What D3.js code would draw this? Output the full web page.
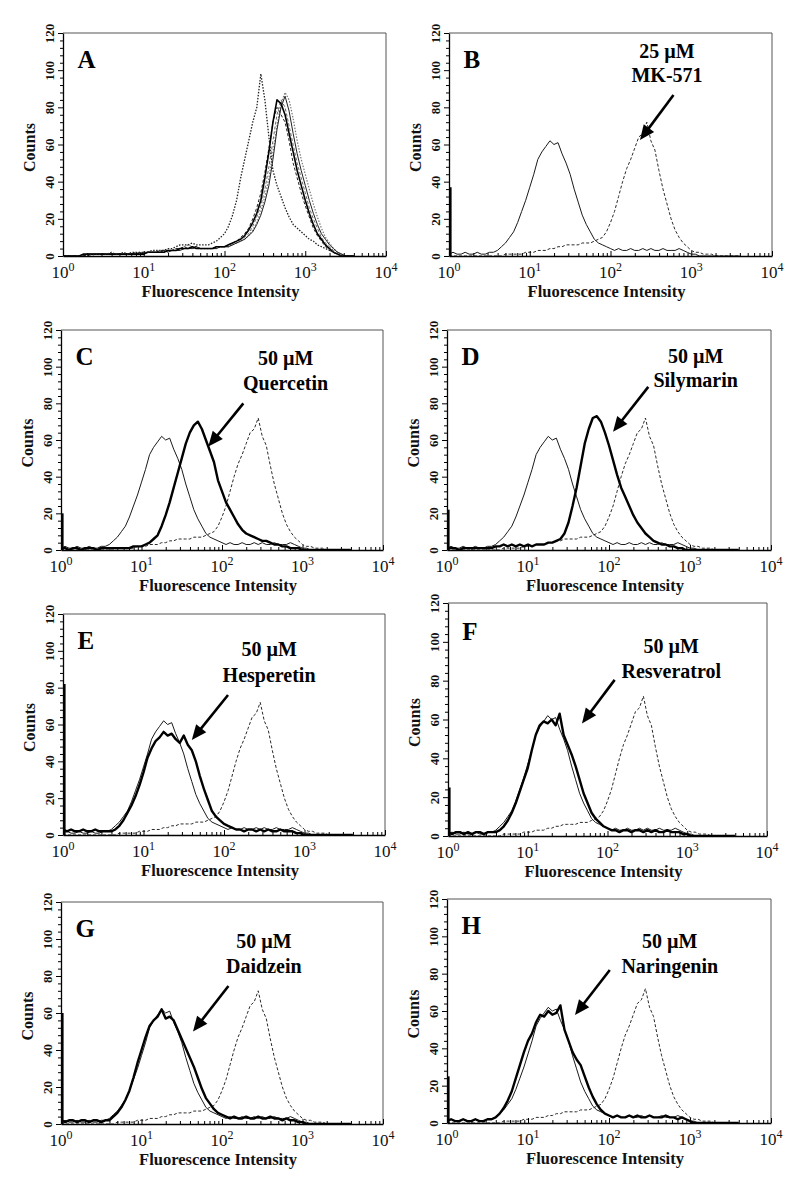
<!DOCTYPE html>
<html><head><meta charset="utf-8">
<script src="https://cdn.jsdelivr.net/npm/d3@7"></script>
<style>body{margin:0;background:#fff} svg{display:block}</style>
</head><body><svg id="chart" width="800" height="1183"></svg>
<script>
// ---------- DATA ----------
// histogram channel positions (log10 of fluorescence intensity)
const binLog = [0,0.05,0.1,0.15,0.2,0.25,0.3,0.35,0.4,0.45,
  0.5,0.55,0.6,0.65,0.7,0.75,0.8,0.85,0.9,0.95,
  1,1.05,1.1,1.15,1.2,1.25,1.3,1.35,1.4,1.45,
  1.5,1.55,1.6,1.65,1.7,1.75,1.8,1.85,1.9,1.95,
  2,2.05,2.1,2.15,2.2,2.25,2.3,2.35,2.4,2.45,
  2.5,2.55,2.6,2.65,2.7,2.75,2.8,2.85,2.9,2.95,
  3,3.05,3.1,3.15,3.2,3.25,3.3,3.35,3.4,3.45,
  3.5,3.55,3.6];

// Panel A: several overlapping histograms
const aSolid1 = [0,0,0,0,0,1,1,1,1,1, 1,1,1,1,1,1,1,1,1,1, 1,2,2,2,2,2,3,3,3,4, 4,4,5,4,4,4,4,4,5,5,
  5,6,7,8,9,11,14,18,23,30, 42,56,72,84,82,76,66,56,46,38, 30,23,17,12,9,6,4,2,1,0, 0,0,0];
const aSolid2 = [0,0,0,0,0,0,1,1,1,1, 1,1,1,1,1,1,1,1,1,2, 1,2,2,2,2,3,2,3,3,3, 4,4,4,5,4,4,4,4,4,5,
  5,5,6,7,8,9,11,13,17,22, 29,38,52,68,80,86,78,66,55,46, 38,30,23,17,12,9,6,4,2,1, 0,0,0];
const aDashed = [0,0,0,0,0,0,0,1,1,1, 1,1,1,1,1,1,1,1,2,1, 2,2,2,2,3,3,3,3,4,4, 5,4,5,5,4,4,4,4,5,5,
  5,6,7,8,10,12,15,20,26,34, 45,58,72,80,76,72,62,50,42,34, 27,21,15,11,8,5,3,2,1,0, 0,0,0];
const aGrayDotted = [0,0,0,0,0,0,1,1,1,1, 1,1,1,1,1,1,1,1,1,1, 2,2,2,2,2,3,3,3,4,4, 5,6,5,5,4,4,4,4,4,5,
  5,5,6,7,8,9,11,14,18,24, 32,42,56,70,82,88,84,74,62,52, 44,36,28,21,15,10,7,4,2,1, 0,0,0];
const aDarkDotted = [0,0,0,0,0,0,1,1,1,1, 1,1,2,1,1,2,1,2,2,2, 2,2,3,3,3,3,4,4,5,6, 6,6,7,6,6,6,6,7,8,10,
  12,16,22,30,42,52,62,72,80,98, 84,64,46,38,32,26,21,17,15,13, 11,9,8,6,5,4,3,2,1,0, 0,0,0];
const aGrayDashed = [0,0,0,0,0,0,0,0,1,1, 1,1,1,1,1,1,1,1,1,1, 1,2,2,2,2,2,3,3,3,3, 4,4,4,4,4,4,4,4,5,5,
  5,5,6,7,8,10,12,16,21,27, 36,48,62,76,84,80,70,60,50,42, 34,26,20,15,10,7,5,3,2,1, 0,0,0];

// Control (thin solid) and 25 µM MK-571 (dashed), panels B–H
const controlCounts = [1,2,1,1,2,1,1,2,1,1, 2,2,3,5,7,10,13,18,24,30, 37,44,52,56,59,62,60,61,55,50,
  44,36,29,22,17,13,9,7,6,5, 4,3,4,3,3,4,3,3,4,3, 4,3,3,4,3,3,3,4,3,2, 1,1,0,0,0,0,0,0,0,0, 0,0,0];
const mk571Counts = [0,0,0,0,0,0,0,0,0,0, 0,0,0,0,1,1,1,1,1,2, 2,2,3,3,3,4,4,5,5,6,
  6,6,6,7,7,7,8,9,10,13, 18,24,32,40,47,52,58,64,66,72, 62,57,46,36,28,20,14,10,7,5, 3,2,2,1,1,1,0,0,0,0, 0,0,0];

// Treatments (thick solid), 50 µM
const quercetinCounts = [1,1,0,1,1,0,1,1,1,0, 1,1,1,1,1,1,1,1,2,2, 2,3,4,6,8,13,19,26,34,42,
  50,58,64,68,70,66,60,54,48,38, 32,26,22,18,14,11,9,8,7,6, 5,5,4,3,3,2,2,1,1,1, 0,0,0,0,0,0,0,0,0,0, 0,0,0];
const silymarinCounts = [1,1,1,0,1,1,1,1,1,1, 1,1,2,2,3,2,3,2,3,2, 3,2,3,3,3,4,4,5,6,9,
  15,24,34,46,58,66,72,73,70,64, 57,49,41,34,29,24,19,15,12,9, 7,5,4,3,3,2,2,1,1,0, 0,0,0,0,0,0,0,0,0,0, 0,0,0];
const hesperetinCounts = [3,2,3,2,2,3,2,2,3,2, 2,2,2,3,5,8,12,16,21,27, 34,42,47,51,53,56,54,55,52,50,
  54,49,46,40,32,25,19,13,10,8, 6,5,4,3,3,2,3,3,2,3, 2,3,2,2,3,2,2,2,1,1, 0,0,0,0,0,0,0,0,0,0, 0,0,0];
const resveratrolCounts = [2,1,2,2,1,2,1,2,2,1, 2,2,2,3,5,8,12,17,23,29, 35,44,52,57,59,58,60,57,63,52,
  47,42,36,29,22,17,12,9,7,5, 4,3,3,2,3,3,2,3,3,2, 3,2,3,2,2,3,2,2,2,1, 1,0,0,0,0,0,0,0,0,0, 0,0,0];
const daidzeinCounts = [2,1,2,2,1,2,2,1,2,2, 1,2,2,4,6,9,13,18,25,33, 40,47,53,56,58,62,57,58,56,51,
  46,41,36,31,25,19,14,11,8,6, 5,4,3,4,3,3,4,3,3,4, 3,3,4,3,3,2,3,2,2,1, 1,0,0,0,0,0,0,0,0,0, 0,0,0];
const naringeninCounts = [1,2,1,1,2,1,1,2,1,1, 2,2,3,5,8,12,17,24,31,38, 44,48,54,58,57,60,58,59,63,50,
  44,38,34,31,25,19,14,10,7,5, 4,3,4,3,3,4,3,4,3,3, 4,3,3,3,4,3,3,2,3,2, 1,0,0,0,0,0,0,0,0,0, 0,0,0];

// counts piled in the first channel (x = 10^0), panels A–H
const firstChannelCounts = [0,37,20,22,82,25,60,25];

// labels
const panelLetters = ["A","B","C","D","E","F","G","H"];
const doseLabels = [null,"25 µM","50 µM","50 µM","50 µM","50 µM","50 µM","50 µM"];
const compoundLabels = [null,"MK-571","Quercetin","Silymarin","Hesperetin","Resveratrol","Daidzein","Naringenin"];
const countTicks = [0,20,40,60,80,100,120];
const decadeTicks = [1,10,100,1000,10000];
const decadeExponents = ["0","1","2","3","4"];
const xTitle = "Fluorescence Intensity";
const yTitle = "Counts";

// ---------- LAYOUT / STYLE ----------
const SERIF = '"Liberation Serif","Times New Roman",Times,serif';
const boxes = [
  {l:63,r:386,t:33,b:256},{l:449,r:772,t:33,b:256},
  {l:61,r:383,t:330,b:550},{l:447,r:771,t:330,b:550},
  {l:63,r:385,t:614,b:835},{l:448,r:767,t:603,b:836},
  {l:61,r:383,t:902,b:1124},{l:447,r:771,t:899,b:1123}
];
// annotation placement in data coordinates [log10 intensity, counts]
const notes = [
  null,
  {tx:2.70,b1:106.4,b2:93.8,tail:[2.78,86.6],tip:[2.365,62.4]},
  {tx:2.79,b1:100.9,b2:87.3,tail:[2.265,80],tip:[1.83,56.4]},
  {tx:3.07,b1:101.8,b2:88.7,tail:[2.485,89],tip:[2.05,64.5]},
  {tx:2.56,b1:97.3,b2:83.2,tail:[2.05,76],tip:[1.6,51.6]},
  {tx:2.80,b1:94.2,b2:81.3,tail:[2.09,80.4],tip:[1.68,58]},
  {tx:2.52,b1:95,b2:81.5,tail:[2.08,74.6],tip:[1.64,50]},
  {tx:2.75,b1:93.6,b2:80.5,tail:[2.01,82],tip:[1.58,57.8]}
];
const sThin = {color:"#1a1a1a",width:1.0,dash:null};
const sDash = {color:"#2a2a2a",width:1.0,dash:"3,2"};
const sThick = {color:"#000",width:2.4,dash:null};
const treatments = [null,null,quercetinCounts,silymarinCounts,hesperetinCounts,resveratrolCounts,daidzeinCounts,naringeninCounts];

function curvesFor(k){
  if(k===0) return [
    {data:aGrayDotted,color:"#777",width:1.2,dash:"1.5,1.5"},
    {data:aGrayDashed,color:"#666",width:1.0,dash:"3,2"},
    {data:aDashed,color:"#222",width:1.0,dash:"3,2"},
    {data:aSolid2,color:"#222",width:1.0,dash:null},
    {data:aSolid1,color:"#000",width:1.6,dash:null},
    {data:aDarkDotted,color:"#222",width:1.3,dash:"1.5,1.5"}
  ];
  const c = [Object.assign({data:mk571Counts},sDash), Object.assign({data:controlCounts},sThin)];
  if(treatments[k]) c.push(Object.assign({data:treatments[k]},sThick));
  return c;
}

// ---------- DRAW ----------
const svg = d3.select("#chart");
svg.append("rect").attr("width",800).attr("height",1183).attr("fill","#fff");
const defs = svg.append("defs");

boxes.forEach((L,k)=>{
  const x = d3.scaleLog().domain([1,1e4]).range([L.l,L.r]);
  const y = d3.scaleLinear().domain([0,120]).range([L.b,L.t]);
  const g = svg.append("g");
  defs.append("clipPath").attr("id","clip"+k).append("rect")
    .attr("x",L.l).attr("y",L.t-2).attr("width",L.r-L.l).attr("height",L.b-L.t+2);

  // frame (top/right)
  g.append("path").attr("d",`M${L.l},${L.t}H${L.r}V${L.b}`).attr("fill","none").attr("stroke","#555").attr("stroke-width",1);

  const plot = g.append("g").attr("clip-path",`url(#clip${k})`);
  const line = d3.line().x((c,i)=>x(Math.pow(10,binLog[i]))).y(c=>y(c));
  curvesFor(k).forEach(cv=>{
    plot.append("path").datum(cv.data).attr("d",line).attr("fill","none")
      .attr("stroke",cv.color).attr("stroke-width",cv.width)
      .attr("stroke-dasharray",cv.dash).attr("stroke-linejoin","round");
  });
  if(firstChannelCounts[k]>0){
    plot.append("line").attr("x1",x(1)+1.5).attr("x2",x(1)+1.5)
      .attr("y1",y(0)).attr("y2",y(firstChannelCounts[k]))
      .attr("stroke","#000").attr("stroke-width",2.2);
  }

  // y axis
  const ya = g.append("g").attr("transform",`translate(${L.l},0)`)
    .call(d3.axisLeft(y).tickValues(countTicks).tickSizeInner(5).tickSizeOuter(0).tickPadding(0));
  ya.attr("font-family",SERIF).attr("font-size",13).attr("font-weight","bold");
  ya.select(".domain").attr("stroke","#000").attr("stroke-width",1.3);
  ya.selectAll("text").attr("transform","rotate(-90)").attr("x",0).attr("y",-9).attr("dy",null)
    .attr("text-anchor","middle").attr("fill","#111");
  const minorY = d3.range(0,121,4).filter(v=>v%20!==0);
  const ym = g.append("g").attr("transform",`translate(${L.l},0)`)
    .call(d3.axisLeft(y).tickValues(minorY).tickSizeInner(3).tickSizeOuter(0).tickFormat(""));
  ym.select(".domain").remove();

  // x axis
  const xa = g.append("g").attr("transform",`translate(0,${L.b})`)
    .call(d3.axisBottom(x).tickValues(decadeTicks).tickSizeInner(-5).tickSizeOuter(0).tickFormat(""));
  xa.select(".domain").attr("stroke","#000").attr("stroke-width",1.3);
  const minorX = [];
  decadeTicks.slice(0,4).forEach(d=>{ for(let m=2;m<=9;m++) minorX.push(d*m); });
  const xm = g.append("g").attr("transform",`translate(0,${L.b})`)
    .call(d3.axisBottom(x).tickValues(minorX).tickSizeInner(-3).tickSizeOuter(0).tickFormat(""));
  xm.select(".domain").remove();

  decadeTicks.forEach((d,i)=>{
    const t = g.append("text").attr("x",x(d)).attr("y",L.b+22).attr("text-anchor","middle")
      .attr("font-family",SERIF).attr("font-size",17).attr("fill","#111");
    t.append("tspan").text("10");
    t.append("tspan").attr("dy",-7).attr("font-size",12).text(decadeExponents[i]);
  });

  // axis titles
  g.append("text").attr("x",(L.l+L.r)/2-4).attr("y",L.b+41).attr("text-anchor","middle")
    .attr("font-family",SERIF).attr("font-size",16.5).attr("font-weight","bold").attr("fill","#111").text(xTitle);
  g.append("text").attr("transform",`translate(${L.l-28},${(L.t+L.b)/2+3}) rotate(-90)`)
    .attr("text-anchor","middle").attr("font-family",SERIF).attr("font-size",16).attr("font-weight","bold")
    .attr("fill","#111").text(yTitle);

  // panel letter
  g.append("text").attr("x",x(Math.pow(10,0.18))).attr("y",y(101))
    .attr("font-family",SERIF).attr("font-size",25).attr("font-weight","bold").text(panelLetters[k]);

  // annotation
  const n = notes[k];
  if(n){
    const cx = x(Math.pow(10,n.tx));
    g.append("text").attr("x",cx).attr("y",y(n.b1)).attr("text-anchor","middle")
      .attr("font-family",SERIF).attr("font-size",20).attr("font-weight","bold").text(doseLabels[k]);
    g.append("text").attr("x",cx).attr("y",y(n.b2)).attr("text-anchor","middle")
      .attr("font-family",SERIF).attr("font-size",20).attr("font-weight","bold").text(compoundLabels[k]);
    const x0 = x(Math.pow(10,n.tail[0])), y0 = y(n.tail[1]);
    const x1 = x(Math.pow(10,n.tip[0])), y1 = y(n.tip[1]);
    const dx = x1-x0, dy = y1-y0, len = Math.hypot(dx,dy), ux = dx/len, uy = dy/len;
    const hl = 15, hw = 6.5;
    const bx = x1-ux*hl, by = y1-uy*hl;
    g.append("line").attr("x1",x0).attr("y1",y0).attr("x2",bx+ux*2).attr("y2",by+uy*2)
      .attr("stroke","#000").attr("stroke-width",2.6);
    g.append("path").attr("d",`M${x1},${y1}L${bx-uy*hw},${by+ux*hw}L${bx+uy*hw},${by-ux*hw}Z`).attr("fill","#000");
  }
});
</script></body></html>
